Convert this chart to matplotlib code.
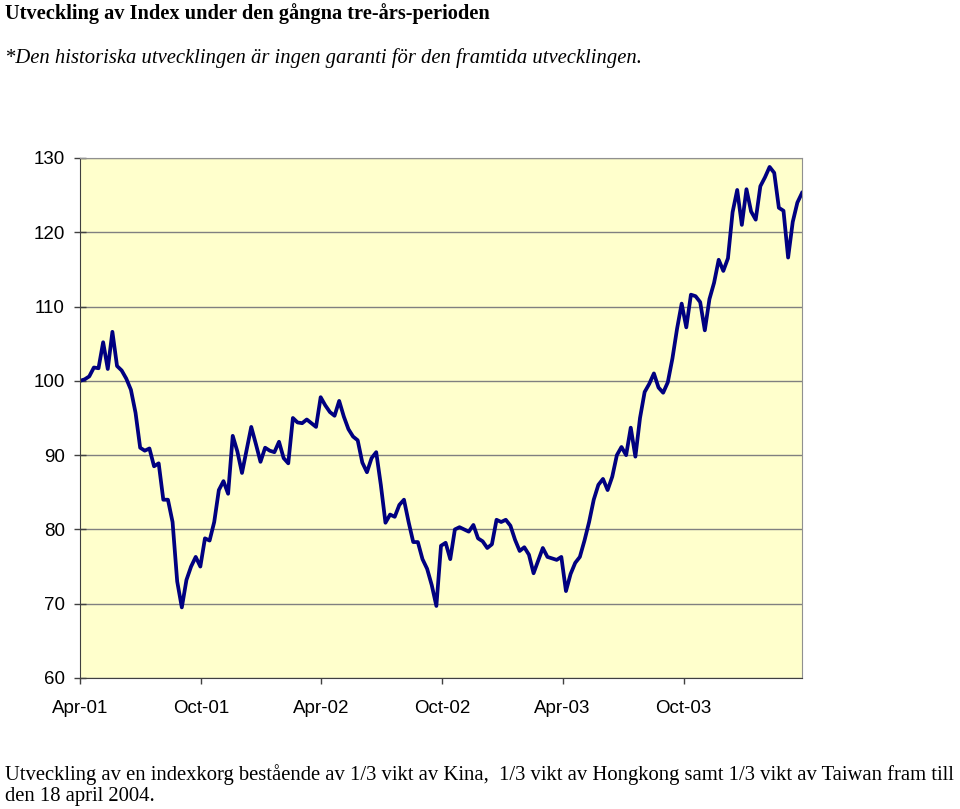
import numpy as np
import pandas as pd
import matplotlib
matplotlib.use('Agg')
import matplotlib.pyplot as plt
import matplotlib.dates as mdates

# Weekly index values
start_date = '2001-04-20'
index_values = [
    100.0, 100.2, 100.6, 101.8, 101.7, 105.2, 101.6, 106.6, 102.0, 101.4,
    100.3, 98.8, 95.7, 91.0, 90.6, 90.9, 88.5, 88.9, 84.0, 84.0,
    81.0, 73.0, 69.5, 73.2, 75.0, 76.3, 75.0, 78.8, 78.5, 81.0,
    85.3, 86.5, 84.8, 92.6, 90.5, 87.6, 90.7, 93.8, 91.5, 89.1,
    91.0, 90.6, 90.4, 91.8, 89.6, 88.9, 95.0, 94.4, 94.3, 94.8,
    94.3, 93.8, 97.8, 96.7, 95.8, 95.3, 97.3, 95.2, 93.5, 92.5,
    92.0, 89.0, 87.7, 89.6, 90.4, 86.0, 80.9, 82.0, 81.7, 83.3,
    84.0, 81.0, 78.3, 78.3, 76.0, 74.7, 72.5, 69.7, 77.8, 78.2,
    76.0, 80.0, 80.3, 80.0, 79.7, 80.6, 78.8, 78.4, 77.5, 78.0,
    81.3, 81.0, 81.3, 80.5, 78.6, 77.1, 77.6, 76.6, 74.1, 75.8,
    77.5, 76.3, 76.1, 75.9, 76.3, 71.7, 74.0, 75.5, 76.3, 78.5,
    81.0, 84.0, 86.0, 86.8, 85.3, 87.1, 90.0, 91.1, 90.0, 93.7,
    89.8, 95.0, 98.5, 99.6, 101.0, 99.1, 98.4, 99.8, 103.0, 107.0,
    110.4, 107.2, 111.6, 111.4, 110.6, 106.8, 111.0, 113.2, 116.3, 114.8,
    116.5, 122.7, 125.7, 121.0, 125.8, 122.8, 121.7, 126.2, 127.4, 128.8,
    128.0, 123.3, 122.9, 116.6, 121.4, 124.0, 125.3,
]
dates = pd.date_range(start_date, periods=len(index_values), freq='7D')

y_ticks = [60, 70, 80, 90, 100, 110, 120, 130]
x_tick_dates = [pd.Timestamp(start_date) + pd.DateOffset(months=6 * k) for k in range(6)]

title = 'Utveckling av Index under den gångna tre-års-perioden'
subtitle = '*Den historiska utvecklingen är ingen garanti för den framtida utvecklingen.'
footnote = ('Utveckling av en indexkorg bestående av 1/3 vikt av Kina,  1/3 vikt av '
            'Hongkong samt 1/3 vikt av Taiwan fram till\nden 18 april 2004.')

fig = plt.figure(figsize=(9.6, 8.09), dpi=100)
ax = fig.add_axes([80 / 960, 1 - 678 / 809, 722 / 960, 520 / 809])
ax.set_facecolor('#FFFFCC')

ax.plot(dates, index_values, color='#000080', linewidth=2.7, solid_joinstyle='round')

ax.set_ylim(60, 130)
ax.set_yticks(y_ticks)
ax.set_xlim(dates[0], dates[-1])
ax.set_xticks(x_tick_dates)
ax.xaxis.set_major_formatter(mdates.DateFormatter('%b-%y'))

ax.grid(axis='y', color='#808080', linewidth=1.0)
ax.set_axisbelow(True)
ax.tick_params(axis='both', labelsize=13.5, width=1, color='#404040',
               labelfontfamily='Liberation Sans')
ax.tick_params(axis='x', length=4.5, pad=11)
ax.tick_params(axis='y', direction='inout', length=9, pad=6.5)
for side in ['left', 'bottom']:
    ax.spines[side].set_color('#404040')
for side in ['top', 'right']:
    ax.spines[side].set_color('#909090')

fig.text(5 / 960, 1 - 14 / 809, title, fontsize=14.7, fontweight='bold',
         family='Liberation Serif', va='center', ha='left')
fig.text(5 / 960, 1 - 58 / 809, subtitle, fontsize=14.9, style='italic',
         family='Liberation Serif', va='center', ha='left')
fig.text(5 / 960, 1 - 785 / 809, footnote, fontsize=14.9,
         family='Liberation Serif', va='center', ha='left', linespacing=1.1)

fig.savefig('out.png', dpi=100)
